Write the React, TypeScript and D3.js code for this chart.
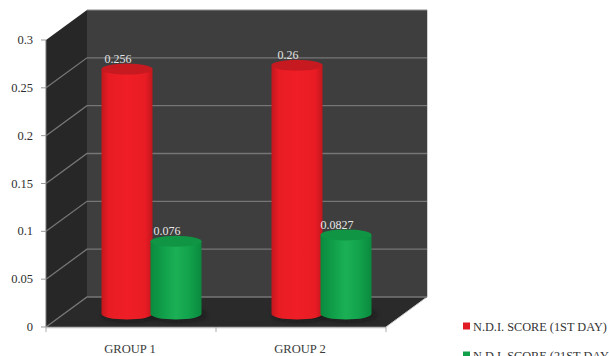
import React from "react";
import * as d3 from "d3";

const categories = ["GROUP 1", "GROUP 2"];
const seriesNames = ["N.D.I. SCORE (1ST DAY)", "N.D.I. SCORE (21ST DAY)"];
const firstDay = [0.256, 0.26];
const labelsFirstDay = ["0.256", "0.26"];
const lastDay = [0.076, 0.0827];
const labelsLastDay = ["0.076", "0.0827"];
const tickValues = [0, 0.05, 0.1, 0.15, 0.2, 0.25, 0.3];
const tickLabels = ["0", "0.05", "0.1", "0.15", "0.2", "0.25", "0.3"];

const WIDTH = 609;
const HEIGHT = 356;
const DEPTH_X = 41;
const DEPTH_Y = 30;
const BASE_LIFT = 13;
const serif = "'Liberation Serif', serif";

const y = d3.scaleLinear().domain([0, 0.3]).range([327, 40]);
const x = d3.scaleBand<string>().domain(categories).range([46, 386]);
const inner = d3
  .scaleBand<string>()
  .domain(["a", "b"])
  .range([0, 98]);

const RX = 25.5;
const RY = 5.5;

function Cylinder(props: { cx: number; value: number; fill: string; top: string }) {
  const { cx, value, fill, top } = props;
  const base = y(0) - BASE_LIFT;
  const head = base - (y(0) - y(value));
  const body = `M${cx - RX},${head} L${cx - RX},${base} A${RX},${RY} 0 0 0 ${cx + RX},${base} L${cx + RX},${head} Z`;
  return (
    <g>
      <path d={body} fill={fill} />
      <ellipse cx={cx} cy={head} rx={RX} ry={RY} fill={top} />
    </g>
  );
}

export default function App() {
  const wallX0 = 46 + DEPTH_X;
  const wallX1 = 386 + DEPTH_X;
  const floorPts = [
    [46, y(0)],
    [wallX0, y(0) - DEPTH_Y],
    [wallX1, y(0) - DEPTH_Y],
    [386, y(0)],
  ];
  const leftPts = [
    [46, y(0.3)],
    [wallX0, y(0.3) - DEPTH_Y],
    [wallX0, y(0) - DEPTH_Y],
    [46, y(0)],
  ];
  const pts = (p: number[][]) => p.map((d) => d.join(",")).join(" ");

  return (
    <svg
      width={WIDTH}
      height={HEIGHT}
      style={{ position: "absolute", left: 0, top: 0, background: "#fff" }}
    >
      <defs>
        <linearGradient id="redBody" x1="0" x2="1" y1="0" y2="0">
          <stop offset="0" stopColor="#c2171d" />
          <stop offset="0.14" stopColor="#e81c24" />
          <stop offset="0.5" stopColor="#f01e26" />
          <stop offset="0.86" stopColor="#e81c24" />
          <stop offset="1" stopColor="#c2171d" />
        </linearGradient>
        <linearGradient id="greenBody" x1="0" x2="1" y1="0" y2="0">
          <stop offset="0" stopColor="#0a8a3e" />
          <stop offset="0.3" stopColor="#12a34c" />
          <stop offset="0.5" stopColor="#1cb056" />
          <stop offset="0.75" stopColor="#12a34c" />
          <stop offset="1" stopColor="#0a8a3e" />
        </linearGradient>
        <filter id="soft" x="-20%" y="-50%" width="140%" height="200%">
          <feGaussianBlur stdDeviation="2.5" />
        </filter>
      </defs>

      {/* Chart box: back wall, side wall and floor */}
      <rect x={wallX0} y={y(0.3) - DEPTH_Y} width={340} height={y(0) - y(0.3)} fill="#3e3e3e" />
      <polygon points={pts(leftPts)} fill="#272727" />
      <polygon points={pts(floorPts)} fill="#2a2a2a" />
      <line x1={wallX0} x2={wallX1} y1={y(0.3) - DEPTH_Y} y2={y(0.3) - DEPTH_Y} stroke="#8a8a8a" strokeWidth={1.2} />
      <line x1={wallX1 + 0.5} x2={wallX1 + 0.5} y1={y(0.3) - DEPTH_Y} y2={y(0) - DEPTH_Y} stroke="#d0d0d0" strokeWidth={1} />
      <line x1={wallX1} x2={386} y1={y(0) - DEPTH_Y} y2={y(0)} stroke="#c8c8c8" strokeWidth={1} />

      {/* Gridlines running along the side wall and back wall */}
      {tickValues.slice(0, -1).map((t) => (
        <polyline
          key={t}
          points={pts([
            [46, y(t)],
            [wallX0, y(t) - DEPTH_Y],
            [wallX1, y(t) - DEPTH_Y],
          ])}
          fill="none"
          stroke="#767676"
          strokeWidth={1.3}
        />
      ))}

      {/* Value axis */}
      <line x1={46} x2={46} y1={y(0.3)} y2={y(0)} stroke="#777" strokeWidth={1} />
      {tickValues.map((t, i) => (
        <g key={t}>
          <line x1={41} x2={46} y1={y(t)} y2={y(t)} stroke="#999" />
          <text
            x={33}
            y={y(t) + 4}
            textAnchor="end"
            fontFamily={serif}
            fontSize={12.5}
            fill="#2e2e2e"
          >
            {tickLabels[i]}
          </text>
        </g>
      ))}

      {/* Category axis */}
      <line x1={46} x2={386} y1={y(0) + 0.5} y2={y(0) + 0.5} stroke="#bdbdbd" strokeWidth={1.4} />
      {[46, 46 + x.bandwidth(), 386].map((tx) => (
        <line key={tx} x1={tx} x2={tx} y1={y(0)} y2={y(0) + 5} stroke="#aaa" />
      ))}
      {categories.map((c) => (
        <text
          key={c}
          x={(x(c) as number) + x.bandwidth() / 2 - 1}
          y={352.5}
          textAnchor="middle"
          fontFamily={serif}
          fontSize={12.6}
          fill="#3a3a3a"
        >
          {c}
        </text>
      ))}

      {/* Cylinders, seated part way into the floor depth */}
      {categories.map((c, i) => {
        const centre = (x(c) as number) + x.bandwidth() / 2 + DEPTH_X / 2 - 49;
        const cxRed = centre + (inner("a") as number) + inner.bandwidth() / 2;
        const cxGreen = centre + (inner("b") as number) + inner.bandwidth() / 2;
        const base = y(0) - BASE_LIFT;
        return (
          <g key={c}>
            <ellipse cx={cxRed + 3} cy={base + 1} rx={RX + 2} ry={RY + 1} fill="#111" opacity={0.5} filter="url(#soft)" />
            <ellipse cx={cxGreen + 3} cy={base + 1} rx={RX + 2} ry={RY + 1} fill="#111" opacity={0.5} filter="url(#soft)" />
            <Cylinder cx={cxRed} value={firstDay[i]} fill="url(#redBody)" top="#c61a20" />
            <Cylinder cx={cxGreen} value={lastDay[i]} fill="url(#greenBody)" top="#0f9544" />
            <text
              x={cxRed - 9}
              y={y(firstDay[i]) - 19}
              textAnchor="middle"
              fontFamily={serif}
              fontSize={12}
              fill="#e2e2e2"
            >
              {labelsFirstDay[i]}
            </text>
            <text
              x={cxGreen - 9}
              y={y(lastDay[i]) - 19}
              textAnchor="middle"
              fontFamily={serif}
              fontSize={12}
              fill="#e6e6e6"
            >
              {labelsLastDay[i]}
            </text>
          </g>
        );
      })}

      {/* Legend */}
      {seriesNames.map((name, i) => {
        const ly = 326 + i * 29;
        return (
          <g key={name}>
            <rect x={463} y={ly - 3.5} width={7} height={7} fill={i === 0 ? "#e01b24" : "#12a04a"} />
            <text x={473} y={ly + 4.5} fontFamily={serif} fontSize={12.3} fill="#333">
              {name}
            </text>
          </g>
        );
      })}
    </svg>
  );
}
